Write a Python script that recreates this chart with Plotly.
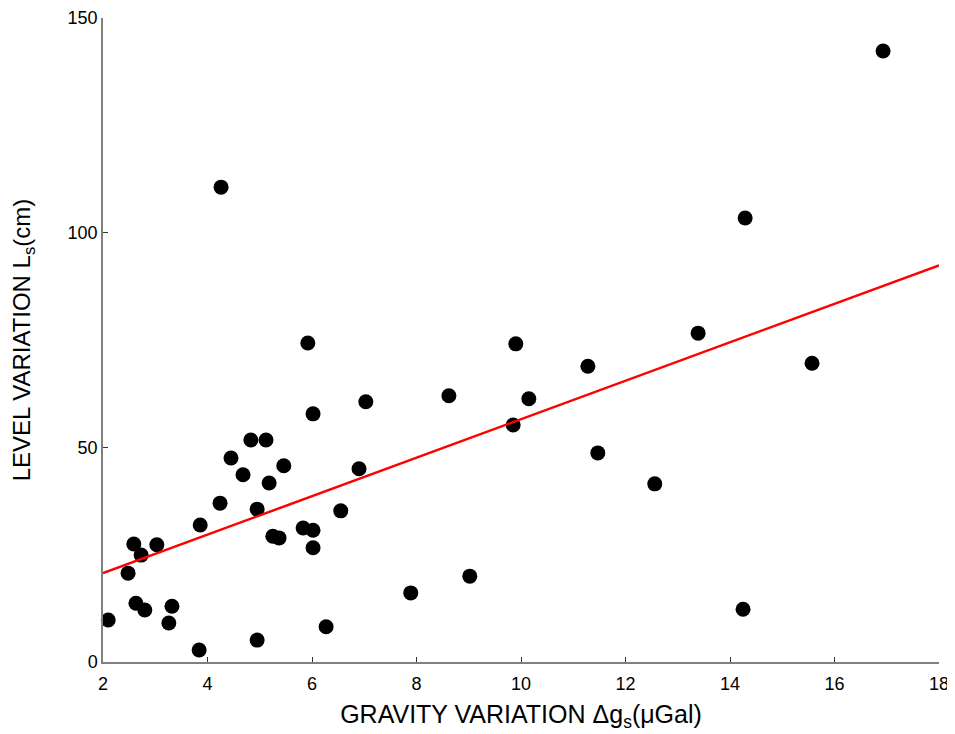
import plotly.graph_objects as go

# Data
gravity_x = [2.10, 2.48, 2.59, 2.73, 2.63, 2.80, 3.03, 3.26, 3.32, 3.84, 3.86, 4.24, 4.26,
             4.45, 4.68, 4.83, 4.95, 4.95, 5.12, 5.18, 5.25, 5.37, 5.46, 5.83, 5.92, 6.02,
             6.02, 6.02, 6.27, 6.55, 6.90, 7.03, 7.89, 8.62, 9.02, 9.85, 9.90, 10.15, 11.28,
             11.47, 12.56, 13.39, 14.25, 14.29, 15.57, 16.93]
level_y = [9.8, 20.7, 27.5, 24.9, 13.7, 12.1, 27.3, 9.1, 13.0, 2.8, 31.9, 37.0, 110.6,
           47.5, 43.6, 51.7, 5.1, 35.6, 51.7, 41.7, 29.3, 28.9, 45.7, 31.2, 74.3, 30.7,
           26.6, 57.8, 8.2, 35.2, 45.0, 60.6, 16.1, 62.0, 20.0, 55.2, 74.1, 61.3, 68.9,
           48.7, 41.5, 76.6, 12.3, 103.4, 69.6, 142.3]
fit_x = [2, 18]
fit_y = [20.7, 92.4]
x_ticks = [2, 4, 6, 8, 10, 12, 14, 16, 18]
y_ticks = [0, 50, 100, 150]

FONT = "Liberation Sans, Arial, sans-serif"

fig = go.Figure()
fig.add_trace(go.Scatter(x=gravity_x, y=level_y, mode="markers",
                         marker=dict(color="black", size=15, line=dict(width=0)),
                         showlegend=False, cliponaxis=False))
fig.add_trace(go.Scatter(x=fit_x, y=fit_y, mode="lines",
                         line=dict(color="#ff0000", width=2.5), showlegend=False))

axis_common = dict(showgrid=False, zeroline=False, showline=True, linecolor="#808080",
                   linewidth=1.5, ticks="inside", ticklen=5, tickcolor="#333333",
                   automargin=False,
                   tickfont=dict(family=FONT, size=18, color="black"))

fig.update_layout(
    width=947, height=726,
    paper_bgcolor="white", plot_bgcolor="white",
    margin=dict(l=95, r=16, t=10, b=72),
    font=dict(family=FONT, color="black"),
    xaxis=dict(range=[2, 18], tickvals=x_ticks, ticklabelstandoff=5,
               title=dict(text="GRAVITY VARIATION Δg<sub>s</sub>(μGal)",
                          font=dict(family=FONT, size=25, color="black"), standoff=12),
               **axis_common),
    yaxis=dict(range=[0, 150], tickvals=y_ticks,
               title=dict(text="LEVEL VARIATION L<sub>s</sub>(cm)",
                          font=dict(family=FONT, size=24, color="black"), standoff=32),
               **axis_common),
)
fig.write_html("out.html")
